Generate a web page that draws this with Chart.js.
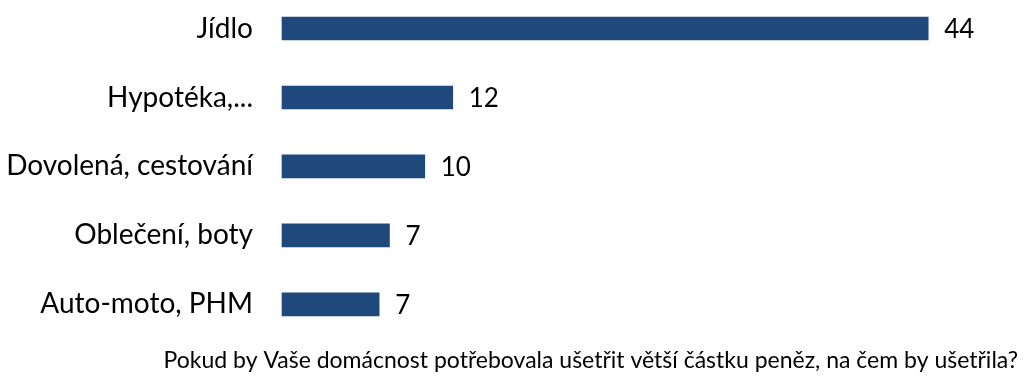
<!DOCTYPE html>
<html>
<head>
<meta charset="utf-8">
<script src="https://cdn.jsdelivr.net/npm/chart.js@4/dist/chart.umd.min.js"></script>
<style>
  html, body { margin: 0; padding: 0; background: #fff; }
  #wrap { width: 1024px; height: 385px; position: relative; }
</style>
</head>
<body>
<div id="wrap"><canvas id="chart"></canvas></div>
<script>
// --- Data ---
const categories = ['Jídlo', 'Hypotéka,...', 'Dovolená, cestování', 'Oblečení, boty', 'Auto-moto, PHM'];
const values = [43.9, 11.6, 9.7, 7.3, 6.6];
const caption = 'Pokud by Vaše domácnost potřebovala ušetřit větší částku peněz, na čem by ušetřila?';

const FONT = 'Lato, "Open Sans", sans-serif';
const BAR_COLOR = '#1f497d';

// value labels next to bars
const valueLabels = {
  id: 'valueLabels',
  afterDatasetsDraw(chart) {
    const ctx = chart.ctx;
    const meta = chart.getDatasetMeta(0);
    ctx.save();
    ctx.fillStyle = '#000';
    ctx.font = '26px ' + FONT;
    ctx.textAlign = 'left';
    ctx.textBaseline = 'middle';
    meta.data.forEach((bar, i) => {
      ctx.fillText(String(Math.round(values[i])), bar.x + 16, bar.y + 1);
    });
    ctx.restore();
  }
};

new Chart(document.getElementById('chart'), {
  type: 'bar',
  data: {
    labels: categories,
    datasets: [{
      data: values,
      backgroundColor: BAR_COLOR,
      barThickness: 23,
      clip: false
    }]
  },
  options: {
    indexAxis: 'y',
    responsive: true,
    maintainAspectRatio: false,
    animation: false,
    layout: { padding: { top: 28.5, right: 6, left: 0, bottom: 0 } },
    plugins: {
      legend: { display: false },
      tooltip: { enabled: false },
      title: {
        display: true,
        text: caption,
        position: 'bottom',
        align: 'end',
        color: '#000',
        font: { family: FONT, size: 23, weight: 'normal', lineHeight: 1.2 },
        padding: { top: 42, bottom: 11 }
      }
    },
    scales: {
      x: { display: false, min: 0, max: 50 },
      y: {
        offset: false,
        grid: { display: false, drawTicks: false },
        border: { display: false },
        ticks: { color: '#000', padding: 29, font: { family: FONT, size: 28 } },
        afterFit(scale) {
          scale.width = 282;
          scale.paddingTop = 0;
          scale.paddingBottom = 0;
        }
      }
    }
  },
  plugins: [valueLabels]
});
</script>
</body>
</html>
